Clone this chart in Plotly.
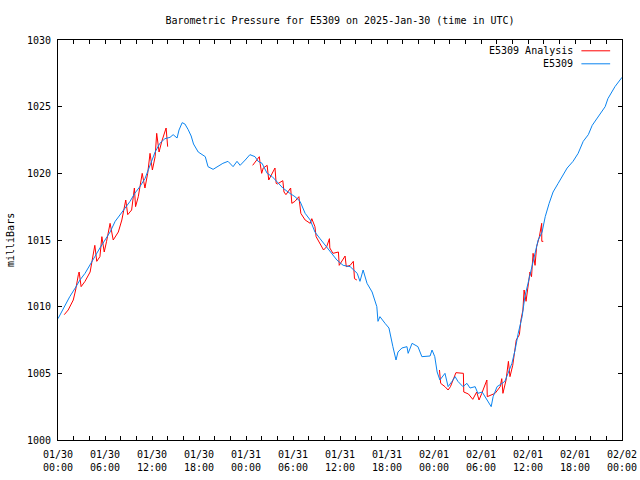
import pandas as pd
import plotly.graph_objects as go

START = pd.Timestamp("2025-01-30 00:00")

# Observed E5309 pressure: hours since 01/30 00:00 UTC, milliBars
obs_hours = [0.0, 0.9, 1.5, 2.2, 2.8, 3.45, 4.1, 4.7, 5.35, 6.0, 6.65, 7.3, 7.9, 8.55, 9.2, 9.8,
             10.45, 11.1, 11.75, 12.4, 13.0, 13.65, 14.3, 14.7, 15.2, 15.45, 15.85, 16.2, 16.6,
             17.0, 17.3, 17.9, 18.8, 19.15, 19.8, 20.4, 21.05, 21.7, 22.35, 22.85, 23.25, 23.9,
             24.5, 25.15, 25.55, 26.05, 26.7, 27.35, 27.95, 28.7, 29.6, 30.25, 30.9, 31.55,
             32.2, 32.8, 33.45, 34.1, 34.75, 35.6, 36.4, 37.3, 38.2, 38.55, 38.95, 39.45, 40.1,
             40.7, 40.85, 41.1, 41.75, 42.25, 42.75, 43.15, 43.4, 43.9, 44.55, 44.7, 45.2,
             45.95, 46.45, 47.5, 47.75, 48.1, 48.4, 48.75, 49.4, 49.8, 50.3, 50.7, 51.05, 51.7,
             52.2, 52.6, 53.25, 53.6, 54.15, 54.5, 54.8, 55.3, 55.55, 56.05, 56.7, 57.05, 57.45,
             57.95, 58.35, 58.75, 59.25, 59.6, 60.0, 60.5, 60.9, 61.3, 61.8, 62.2, 62.7, 63.2,
             63.85, 64.5, 65.0, 65.75, 66.4, 67.05, 67.7, 68.2, 68.95, 69.85, 70.2, 71.1, 72.0]
obs_values = [1009.1, 1010.1, 1010.75, 1011.4, 1012.0, 1012.5, 1013.1, 1013.75, 1014.4, 1015.0,
              1015.6, 1016.4, 1016.9, 1017.4, 1017.9, 1018.5, 1019.0, 1019.6, 1020.6, 1021.6,
              1022.25, 1022.6, 1022.7, 1022.9, 1022.65, 1023.25, 1023.8, 1023.7, 1023.3, 1022.8,
              1022.2, 1021.6, 1021.25, 1020.5, 1020.3, 1020.5, 1020.75, 1020.9, 1020.5, 1020.9,
              1020.6, 1021.0, 1021.4, 1021.25, 1020.9, 1020.75, 1020.0, 1019.75, 1019.4, 1018.9,
              1018.5, 1018.25, 1017.9, 1017.0, 1016.5, 1015.6, 1015.1, 1014.6, 1014.1, 1013.5,
              1013.1, 1013.0, 1012.5, 1011.9, 1012.75, 1011.75, 1011.1, 1010.0, 1008.9, 1009.25,
              1008.75, 1008.4, 1007.0, 1006.0, 1006.6, 1006.9, 1007.0, 1006.5, 1007.25, 1007.0,
              1006.25, 1006.3, 1006.75, 1006.25, 1005.1, 1004.5, 1005.0, 1004.0, 1004.4, 1004.75,
              1004.4, 1004.0, 1004.25, 1003.9, 1004.0, 1003.5, 1003.6, 1003.25, 1003.0, 1002.5,
              1003.25, 1004.0, 1004.25, 1004.4, 1005.0, 1005.75, 1006.75, 1008.0, 1009.25,
              1010.75, 1011.75, 1013.0, 1014.0, 1015.0, 1015.6, 1016.75, 1017.75, 1018.6, 1019.25,
              1019.9, 1020.4, 1020.9, 1021.5, 1022.4, 1022.9, 1023.6, 1024.25, 1025.0, 1025.6,
              1026.5, 1027.2]

# Analysis series, three separate runs
ana1_hours = [0.8, 1.3, 1.95, 2.25, 2.6, 2.7, 2.95, 3.45, 4.1, 4.5, 4.7, 4.95, 5.35, 5.6, 5.9,
              6.2, 6.65, 7.05, 7.7, 8.15, 8.65, 8.9, 9.4, 9.75, 9.9, 10.25, 10.75, 11.1, 11.45,
              11.75, 12.05, 12.4, 12.6, 12.9, 13.25, 13.8, 14.0]
ana1_values = [1009.4, 1009.75, 1010.5, 1011.25, 1012.4, 1012.6, 1011.5, 1011.9, 1012.6, 1013.75,
               1014.6, 1013.4, 1013.75, 1015.25, 1014.1, 1014.9, 1016.25, 1015.0, 1015.6, 1016.5,
               1018.0, 1016.9, 1017.25, 1018.9, 1017.5, 1018.25, 1020.0, 1018.9, 1020.0, 1021.5,
               1020.25, 1021.25, 1023.0, 1021.6, 1022.4, 1023.4, 1022.0]
ana2_hours = [24.85, 25.35, 25.7, 25.8, 26.0, 26.2, 26.7, 26.9, 27.3, 27.7, 27.85, 28.0, 28.7,
              28.85, 29.1, 29.7, 29.85, 30.25, 30.75, 31.0, 31.55, 32.2, 32.4, 32.8, 32.95, 33.9,
              34.3, 34.65, 34.7, 35.1, 35.8, 35.9, 36.65, 36.8, 37.3, 37.7, 37.85, 38.15]
ana2_values = [1020.6, 1021.0, 1021.25, 1020.75, 1020.0, 1020.4, 1020.6, 1019.5, 1019.9, 1020.4,
               1019.25, 1019.2, 1019.45, 1018.6, 1018.4, 1018.9, 1017.75, 1017.9, 1018.25, 1017.0,
               1016.5, 1016.25, 1016.6, 1016.0, 1015.25, 1014.25, 1014.5, 1015.1, 1014.4, 1014.0,
               1014.1, 1013.1, 1013.8, 1013.0, 1013.1, 1013.4, 1012.1, 1012.0]
ana3_hours = [48.7, 48.85, 49.4, 49.8, 50.1, 50.55, 50.8, 51.75, 51.8, 52.4, 52.95, 53.45, 53.75,
              54.1, 54.4, 54.75, 54.8, 55.8, 56.45, 56.65, 56.8, 57.2, 57.5, 57.7, 58.05, 58.5,
              58.9, 59.1, 59.35, 59.5, 59.75, 60.05, 60.25, 60.45, 60.65, 60.9, 61.1, 61.45,
              61.6, 61.75, 61.76, 61.95]
ana3_values = [1005.25, 1004.25, 1004.0, 1003.75, 1004.0, 1004.75, 1005.05, 1005.0, 1003.6,
               1003.45, 1003.05, 1003.6, 1003.0, 1003.5, 1004.0, 1004.5, 1003.25, 1003.5, 1004.0,
               1004.6, 1003.5, 1004.5, 1005.9, 1004.75, 1005.6, 1007.5, 1007.9, 1009.0, 1009.75,
               1011.25, 1010.4, 1011.75, 1012.6, 1012.25, 1014.0, 1013.1, 1014.5, 1015.25,
               1015.9, 1016.25, 1014.9, 1014.9]

tick_hours = [0, 6, 12, 18, 24, 30, 36, 42, 48, 54, 60, 66, 72]
tick_labels = ["01/30<br>00:00", "01/30<br>06:00", "01/30<br>12:00", "01/30<br>18:00",
               "01/31<br>00:00", "01/31<br>06:00", "01/31<br>12:00", "01/31<br>18:00",
               "02/01<br>00:00", "02/01<br>06:00", "02/01<br>12:00", "02/01<br>18:00",
               "02/02<br>00:00"]
y_ticks = [1000, 1005, 1010, 1015, 1020, 1025, 1030]

RED = "#ff0000"
BLUE = "#0a84f0"
FONT = "DejaVu Sans Mono"


def to_time(hours):
    return [START + pd.Timedelta(hours=h) for h in hours]


ana_x, ana_y = [], []
for hs, vs in [(ana1_hours, ana1_values), (ana2_hours, ana2_values), (ana3_hours, ana3_values)]:
    ana_x += to_time(hs) + [None]
    ana_y += vs + [None]

fig = go.Figure()
fig.add_trace(go.Scatter(x=ana_x, y=ana_y, mode="lines", name="E5309 Analysis",
                         line=dict(color=RED, width=1), connectgaps=False))
fig.add_trace(go.Scatter(x=to_time(obs_hours), y=obs_values, mode="lines", name="E5309",
                         line=dict(color=BLUE, width=1)))

axis_common = dict(showgrid=False, zeroline=False, showline=True, linecolor="black",
                   linewidth=1, mirror="ticks", ticks="inside", ticklen=4, tickcolor="black",
                   automargin=False,
                   tickfont=dict(family=FONT, size=10, color="black"))

fig.update_xaxes(range=[START, START + pd.Timedelta(hours=72)],
                 tickvals=to_time(tick_hours), ticktext=tick_labels, ticklabelstandoff=5,
                 minor=dict(dtick=2 * 3600 * 1000, ticks="inside", ticklen=4,
                            tickcolor="black", showgrid=False),
                 **axis_common)
fig.update_yaxes(range=[1000, 1030], tickvals=y_ticks, ticklabelstandoff=4,
                 **axis_common)

# Y axis title
fig.add_annotation(xref="paper", yref="paper", x=(10 - 58) / 564, y=0.5, text="milliBars",
                   textangle=-90, showarrow=False, xanchor="center", yanchor="middle",
                   font=dict(family=FONT, size=10, color="black"))

# Legend drawn gnuplot-style: text right-aligned, sample line on the right
legend_items = [("E5309 Analysis", RED, 0.973), ("E5309", BLUE, 0.9405)]
for label, color, yy in legend_items:
    fig.add_annotation(xref="paper", yref="paper", x=0.916, y=yy, text=label,
                       showarrow=False, xanchor="right", yanchor="middle",
                       font=dict(family=FONT, size=10, color="black"))
    fig.add_shape(type="line", xref="paper", yref="paper", x0=0.928, x1=0.979, y0=yy, y1=yy,
                  line=dict(color=color, width=1))

fig.update_layout(
    width=640, height=480,
    margin=dict(l=58, r=18, t=40, b=40, autoexpand=False),
    paper_bgcolor="white", plot_bgcolor="white",
    showlegend=False,
    title=dict(text="Barometric Pressure for E5309 on 2025-Jan-30 (time in UTC)",
               x=340 / 640, xanchor="center", y=1 - 20 / 480, yanchor="middle",
               font=dict(family=FONT, size=10, color="black")),
    font=dict(family=FONT, size=10, color="black"),
)

fig.write_html("out.html", config={"displayModeBar": False},
               post_script="document.body.style.margin='0';document.body.style.overflow='hidden';")
